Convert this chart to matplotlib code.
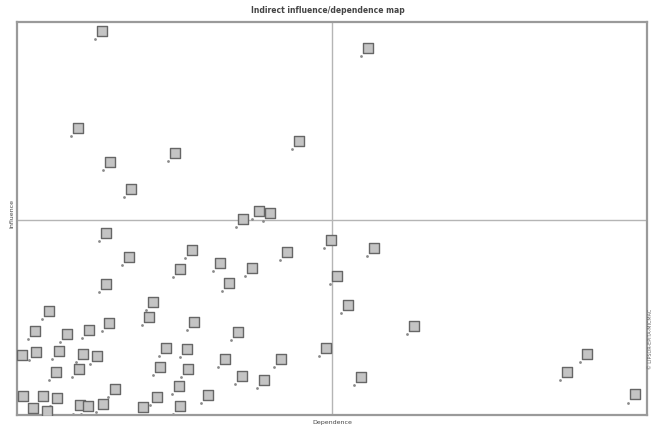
import numpy as np
from matplotlib import pyplot as plt
from matplotlib import transforms

# dependence (x) / influence (y), scaled 0-100
dependence = [13.5, 55.7, 9.7, 14.8, 25.1, 44.8, 18.1, 35.9, 38.4, 40.2,
              14.1, 17.8, 27.8, 32.2, 37.3, 42.8, 49.8, 56.7, 50.8, 33.6,
              25.9, 14.1, 5.1, 21.6, 20.9, 28.1, 14.6, 52.5, 63.0, 2.9,
              7.9, 11.4, 35.1, 0.8, 3.0, 6.7, 10.5, 12.7, 23.6, 27.0,
              33.0, 41.9, 49.0, 90.5, 6.2, 9.8, 22.7, 27.1, 87.3, 35.7,
              39.2, 54.6, 25.7, 15.6, 1.0, 4.1, 6.3, 10.0, 11.3, 13.6,
              22.2, 30.3, 98.1, 2.5, 4.8, 20.0, 25.9]
influence = [97.7, 93.4, 73.0, 64.4, 66.7, 69.7, 57.5, 49.9, 51.9, 51.4,
             46.3, 40.2, 42.0, 38.7, 37.4, 41.5, 44.5, 42.5, 35.4, 33.6,
             37.2, 33.3, 26.5, 28.8, 24.9, 23.7, 23.4, 28.0, 22.7, 21.4,
             20.6, 21.6, 21.1, 15.3, 16.0, 16.3, 15.5, 15.0, 17.1, 16.8,
             14.3, 14.3, 17.1, 15.5, 10.9, 11.7, 12.2, 11.7, 10.9, 9.9,
             8.9, 9.7, 7.4, 6.6, 4.8, 4.8, 4.3, 2.5, 2.3, 2.8,
             4.6, 5.1, 5.3, 1.8, 1.0, 2.0, 2.3]
x_mid = 50.0
y_mid = 49.6

fig = plt.figure(figsize=(6.56, 4.27), dpi=100)
ax = fig.add_axes([17/656, 11/427, 630/656, 393/427])

ax.axvline(x_mid, color='#b5b5b5', lw=1, zorder=1)
ax.axhline(y_mid, color='#b5b5b5', lw=1, zorder=1)

# small point marks, label boxes sit up-right of them
dot_tr = transforms.offset_copy(ax.transData, fig=fig, x=-5, y=-6, units='points')
ax.scatter(dependence, influence, s=4, color='#8a8a8a', transform=dot_tr, zorder=2, linewidths=0)
ax.scatter(dependence, influence, s=50, marker='s', facecolor='#c4c4c4',
           edgecolor='#666666', linewidths=1.0, zorder=3)

ax.set_xlim(0, 100)
ax.set_ylim(0, 100)
ax.set_xticks([])
ax.set_yticks([])
for s in ax.spines.values():
    s.set_color('#9a9a9a')
    s.set_linewidth(1.6)

fig.text(0.5, 0.976, "Indirect influence/dependence map", ha='center', va='center',
         fontsize=5.5, fontweight='bold', color='#444444')
fig.text(12/656, 0.5, "Influence", rotation=90, ha='center', va='center',
         fontsize=4.5, color='#444444')
fig.text(332/656, 4/427, "Dependence", ha='center', va='center',
         fontsize=4.5, color='#444444')
fig.text(651/656, 88/427, "\u00a9 LIPSOR-EPITA-MICMAC", rotation=90, ha='center',
         va='center', fontsize=3.5, color='#666666')

fig.savefig("out.png", dpi=100)
